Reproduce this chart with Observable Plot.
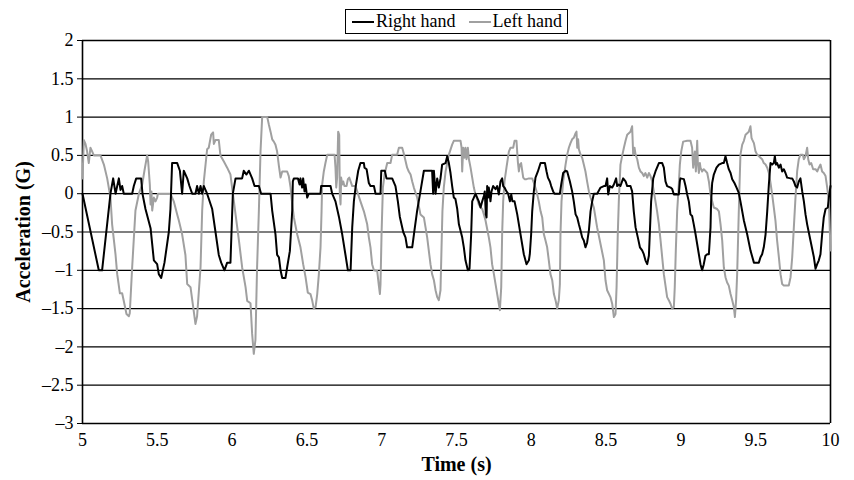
<!DOCTYPE html>
<html>
<head>
<meta charset="utf-8">
<script src="https://cdn.jsdelivr.net/npm/d3@7"></script>
<script src="https://cdn.jsdelivr.net/npm/@observablehq/plot@0.6"></script>
<style>
  html, body { margin: 0; padding: 0; background: #fff; }
  #wrap { position: relative; width: 854px; height: 480px; font-family: "Liberation Serif", "Times New Roman", serif; }
  #legend { position: absolute; left: 345px; top: 9px; height: 23px; border: 1px solid #000; background: #fff;
            display: flex; align-items: center; font-size: 18px; padding: 0 5px 0 6px; white-space: nowrap; }
  .sw { display: inline-block; width: 22px; height: 2px; margin-right: 2px; }
  .item { display: inline-flex; align-items: center; }
  #chart svg text { font-family: "Liberation Serif", "Times New Roman", serif; }
</style>
</head>
<body>
<div id="wrap">
  <div id="chart"></div>
  <div id="legend"></div>
</div>
<script>
const seriesNames = ["Right hand", "Left hand"];
const seriesColors = ["#000000", "#a0a0a0"];
const xTicks = [5, 5.5, 6, 6.5, 7, 7.5, 8, 8.5, 9, 9.5, 10];
const yTicks = [-3, -2.5, -2, -1.5, -1, -0.5, 0, 0.5, 1, 1.5, 2];

const rightTime = [5.000,5.109,5.131,5.187,5.205,5.221,5.243,5.254,5.265,5.276,5.332,5.343,5.359,5.392,5.401,5.421,5.455,5.477,5.499,5.510,5.526,5.548,5.577,5.588,5.599,5.633,5.651,5.666,5.677,5.700,5.715,5.733,5.755,5.766,5.778,5.789,5.800,5.811,5.833,5.867,5.889,5.911,5.927,5.949,5.967,5.989,6.005,6.023,6.067,6.078,6.096,6.112,6.134,6.150,6.179,6.194,6.257,6.268,6.290,6.301,6.313,6.324,6.335,6.357,6.368,6.386,6.402,6.406,6.413,6.440,6.451,6.457,6.468,6.475,6.484,6.491,6.502,6.513,6.591,6.595,6.658,6.669,6.691,6.714,6.736,6.758,6.774,6.792,6.803,6.814,6.825,6.843,6.858,6.881,6.885,6.899,6.914,6.925,6.948,6.959,6.992,6.997,7.021,7.032,7.070,7.092,7.108,7.121,7.144,7.159,7.170,7.204,7.219,7.237,7.259,7.282,7.337,7.344,7.349,7.360,7.371,7.382,7.393,7.404,7.427,7.438,7.449,7.460,7.471,7.482,7.493,7.505,7.516,7.538,7.549,7.560,7.576,7.587,7.598,7.605,7.616,7.627,7.638,7.649,7.661,7.672,7.683,7.689,7.696,7.701,7.705,7.712,7.716,7.727,7.734,7.745,7.761,7.772,7.783,7.794,7.805,7.812,7.821,7.834,7.845,7.857,7.866,7.874,7.888,7.906,7.928,7.950,7.968,7.984,7.990,7.999,8.006,8.017,8.028,8.044,8.062,8.091,8.102,8.111,8.124,8.133,8.146,8.155,8.191,8.200,8.213,8.229,8.240,8.258,8.273,8.284,8.296,8.307,8.318,8.329,8.340,8.351,8.362,8.373,8.385,8.396,8.407,8.418,8.440,8.463,8.485,8.496,8.507,8.514,8.525,8.541,8.552,8.567,8.574,8.585,8.596,8.614,8.630,8.641,8.663,8.674,8.685,8.697,8.712,8.726,8.741,8.752,8.763,8.775,8.786,8.792,8.801,8.815,8.830,8.853,8.875,8.886,8.897,8.908,8.931,8.942,8.953,8.986,8.993,8.997,9.020,9.031,9.042,9.053,9.064,9.075,9.086,9.098,9.109,9.120,9.131,9.142,9.153,9.164,9.176,9.187,9.198,9.202,9.209,9.220,9.238,9.254,9.276,9.287,9.298,9.309,9.320,9.332,9.343,9.358,9.372,9.387,9.398,9.421,9.443,9.465,9.488,9.521,9.532,9.543,9.554,9.566,9.577,9.588,9.599,9.610,9.621,9.628,9.635,9.643,9.655,9.666,9.677,9.688,9.699,9.710,9.733,9.744,9.755,9.766,9.777,9.788,9.799,9.811,9.822,9.833,9.844,9.866,9.889,9.900,9.911,9.922,9.933,9.944,9.955,9.967,9.982,9.989,10.0];
const rightAccel = [0,-1.0,-1.0,0,0.2,0,0.2,0.05,0.1,0,0,0.1,0.2,0.2,0,-0.2,-0.45,-0.87,-0.92,-1.05,-1.1,-0.9,-0.5,-0.2,0.4,0.4,0.3,0,0.3,0.2,0.1,0,0,0.1,0,0.1,0,0.1,0,-0.2,-0.5,-0.8,-0.9,-1.0,-0.9,-0.9,0,0.2,0.2,0.3,0.25,0.3,0.2,0.1,0.1,0,0,-0.22,-0.53,-0.8,-0.83,-1.0,-1.1,-1.1,-0.96,-0.75,-0.22,0.16,0.2,0.2,0.12,0.2,0.08,0.2,0.03,0.12,-0.05,0,0,0.1,0.1,0,-0.1,-0.3,-0.53,-0.8,-1.0,-1.0,-0.44,-0.1,0.08,0.3,0.4,0.4,0.34,0.32,0.14,0.1,0.1,0,0,0.3,0.3,0.2,0.2,0.1,-0.1,-0.3,-0.5,-0.57,-0.7,-0.7,-0.48,-0.22,0.03,0.3,0.3,0,0.3,0,0.2,0.08,0.2,0.38,0.4,0.49,0.4,0.27,0.1,-0.05,-0.07,-0.2,-0.4,-0.57,-0.7,-0.87,-1.0,-0.98,-0.53,-0.1,-0.05,0,-0.05,-0.1,-0.18,-0.1,-0.03,0.03,-0.27,-0.31,0.1,-0.05,0.08,-0.1,0.03,0.1,0.06,0.1,-0.01,0.16,0.2,0.1,0.08,0.03,0,-0.1,-0.01,-0.1,-0.1,-0.27,-0.53,-0.79,-0.92,-0.87,-0.79,-0.53,-0.23,0.03,0.21,0.29,0.4,0.4,0.29,0.21,0.16,0.1,0.03,0,0,0.12,0.27,0.3,0.29,0.16,0.03,-0.1,-0.27,-0.31,-0.4,-0.48,-0.57,-0.61,-0.7,-0.64,-0.48,-0.23,-0.1,0,0,0.08,0.1,0.1,0.2,-0.01,0.1,0.08,0.12,0.2,0.1,0.12,0.1,0.2,0.16,0.1,0.1,0.03,-0.23,-0.44,-0.57,-0.7,-0.74,-0.79,-0.87,-0.92,-0.81,-0.53,-0.1,0.2,0.29,0.4,0.4,0.34,0.16,0.1,0.08,0.06,-0.01,-0.01,0.16,0.2,0.19,0.1,-0.01,-0.1,-0.27,-0.29,-0.4,-0.53,-0.66,-0.79,-0.92,-1.0,-0.92,-0.81,-0.79,-0.79,-0.44,-0.1,0.14,0.25,0.34,0.38,0.4,0.4,0.49,0.4,0.32,0.27,0.19,0.14,0.08,0.01,-0.1,-0.35,-0.53,-0.74,-0.9,-0.9,-0.83,-0.79,-0.7,-0.53,-0.23,0.12,0.4,0.38,0.4,0.49,0.38,0.4,0.34,0.38,0.29,0.32,0.27,0.21,0.2,0.2,0.16,0.1,0.08,0.16,0.2,0.03,-0.1,-0.27,-0.4,-0.61,-0.83,-0.98,-0.92,-0.87,-0.79,-0.53,-0.31,-0.2,-0.18,-0.05,0.1];

const leftTime = [5.000,5.009,5.020,5.031,5.042,5.053,5.065,5.076,5.120,5.143,5.165,5.187,5.198,5.221,5.232,5.250,5.265,5.276,5.294,5.310,5.316,5.332,5.354,5.377,5.399,5.414,5.432,5.439,5.450,5.455,5.461,5.466,5.477,5.488,5.499,5.504,5.588,5.610,5.633,5.644,5.666,5.688,5.700,5.722,5.740,5.755,5.766,5.789,5.800,5.811,5.833,5.844,5.860,5.873,5.878,5.889,5.911,5.922,5.945,5.967,5.989,6.000,6.012,6.023,6.045,6.067,6.090,6.101,6.123,6.134,6.145,6.156,6.167,6.179,6.190,6.201,6.235,6.246,6.257,6.268,6.279,6.290,6.301,6.313,6.324,6.335,6.368,6.379,6.391,6.402,6.413,6.435,6.457,6.475,6.491,6.506,6.524,6.535,6.546,6.558,6.569,6.580,6.591,6.598,6.602,6.613,6.624,6.636,6.685,6.691,6.696,6.702,6.709,6.716,6.720,6.725,6.729,6.736,6.743,6.751,6.765,6.774,6.783,6.792,6.803,6.825,6.836,6.858,6.881,6.903,6.914,6.925,6.936,6.948,6.970,6.981,6.988,6.992,6.999,7.008,7.019,7.037,7.059,7.070,7.103,7.115,7.137,7.144,7.152,7.170,7.181,7.193,7.204,7.215,7.237,7.259,7.282,7.293,7.304,7.326,7.337,7.349,7.360,7.371,7.382,7.393,7.400,7.406,7.415,7.427,7.438,7.449,7.471,7.482,7.527,7.534,7.538,7.545,7.554,7.560,7.567,7.576,7.583,7.594,7.605,7.616,7.627,7.638,7.649,7.661,7.672,7.683,7.694,7.705,7.716,7.727,7.738,7.750,7.761,7.772,7.783,7.790,7.799,7.805,7.812,7.821,7.834,7.850,7.861,7.879,7.888,7.901,7.910,7.917,7.923,7.932,7.946,7.955,7.968,7.984,8.006,8.021,8.035,8.050,8.062,8.073,8.084,8.095,8.106,8.117,8.128,8.140,8.151,8.162,8.173,8.184,8.191,8.195,8.202,8.213,8.229,8.240,8.251,8.262,8.273,8.284,8.296,8.302,8.307,8.313,8.318,8.329,8.340,8.351,8.362,8.373,8.385,8.396,8.418,8.440,8.463,8.485,8.496,8.507,8.529,8.541,8.552,8.563,8.570,8.578,8.585,8.596,8.607,8.619,8.630,8.641,8.652,8.663,8.674,8.681,8.690,8.697,8.708,8.719,8.730,8.741,8.752,8.763,8.775,8.786,8.797,8.808,8.819,8.830,8.841,8.853,8.864,8.875,8.886,8.897,8.908,8.919,8.931,8.942,8.953,8.959,8.966,8.975,8.986,8.993,9.002,9.015,9.042,9.064,9.075,9.082,9.086,9.093,9.100,9.109,9.113,9.120,9.127,9.131,9.142,9.153,9.176,9.187,9.198,9.209,9.220,9.242,9.254,9.265,9.276,9.287,9.298,9.309,9.320,9.332,9.343,9.354,9.361,9.369,9.376,9.383,9.390,9.398,9.410,9.421,9.432,9.443,9.454,9.465,9.472,9.476,9.488,9.499,9.510,9.532,9.543,9.554,9.566,9.577,9.588,9.599,9.610,9.621,9.632,9.643,9.655,9.666,9.677,9.688,9.721,9.733,9.744,9.755,9.766,9.777,9.788,9.799,9.815,9.822,9.833,9.844,9.851,9.860,9.871,9.884,9.900,9.911,9.922,9.933,9.944,9.955,9.967,9.978,9.989,10.0];
const leftAccel = [0.2,0.7,0.65,0.55,0.4,0.6,0.55,0.5,0.5,0.38,0.2,-0.05,-0.4,-0.8,-1.05,-1.3,-1.3,-1.4,-1.57,-1.6,-1.56,-0.96,-0.22,0,0.12,0.3,0.5,0.42,0.12,-0.14,0.03,-0.22,-0.05,-0.1,-0.05,0,0,-0.1,-0.27,-0.35,-0.53,-0.8,-1.18,-1.22,-1.48,-1.7,-1.6,-0.96,-0.22,0.16,0.58,0.6,0.77,0.8,0.65,0.7,0.7,0.5,0.42,0.34,0.25,0.08,-0.1,-0.27,-0.6,-0.96,-1.22,-1.4,-1.43,-1.83,-2.09,-1.91,-0.96,-0.22,0.55,1.0,1.0,0.9,0.81,0.71,0.68,0.64,0.55,0.36,0.21,0.29,0.29,0.23,0.08,-0.14,-0.31,-0.53,-0.7,-0.92,-1.09,-1.29,-1.31,-1.39,-1.5,-1.48,-1.31,-1.05,-0.7,-0.23,0.12,0.29,0.4,0.51,0.51,0.34,0.08,0.21,0.81,0.77,-0.01,-0.14,0.21,0.12,0.16,0.1,0.1,0.19,0.21,0.16,0.1,0.1,0.03,-0.1,-0.23,-0.4,-0.57,-0.7,-0.92,-1.0,-1.01,-1.2,-1.31,-1.18,-0.53,0.08,0.25,0.4,0.4,0.51,0.51,0.6,0.6,0.55,0.49,0.34,0.29,0.25,0.16,0.08,-0.05,-0.27,-0.31,-0.44,-0.57,-0.92,-1.05,-1.13,-1.26,-1.35,-1.39,-1.26,-0.7,-0.23,0.08,0.29,0.4,0.51,0.64,0.69,0.69,0.6,0.29,0.6,0.47,0.6,0.45,0.6,0.45,0.34,0.21,0.08,-0.01,-0.07,-0.14,-0.18,-0.2,-0.27,-0.35,-0.46,-0.57,-0.7,-0.92,-1.05,-1.18,-1.31,-1.44,-1.52,-1.22,-0.53,-0.1,0.16,0.34,0.55,0.6,0.6,0.69,0.69,0.42,0.29,0.38,0.4,0.21,0.19,0.19,0.2,0.2,0.12,0.03,-0.1,-0.23,-0.31,-0.53,-0.61,-0.7,-0.87,-1.05,-1.13,-1.31,-1.39,-1.5,-1.39,-1.18,-0.53,-0.1,0.16,0.38,0.51,0.6,0.66,0.71,0.73,0.79,0.81,0.6,0.71,0.58,0.51,0.47,0.38,0.29,0.16,0.03,-0.05,-0.18,-0.44,-0.66,-0.87,-1.13,-1.26,-1.35,-1.44,-1.61,-1.57,-1.22,-0.53,-0.1,0.38,0.49,0.6,0.69,0.77,0.79,0.81,0.88,0.51,0.6,0.51,0.45,0.34,0.29,0.27,0.23,0.27,0.21,0.27,0.23,0.16,0.03,-0.1,-0.23,-0.4,-0.61,-0.83,-1.05,-1.2,-1.35,-1.39,-1.44,-1.5,-1.48,-1.22,-0.74,-0.23,0.12,0.38,0.55,0.68,0.69,0.69,0.6,0.34,0.42,0.55,0.29,0.69,0.42,0.27,0.4,0.34,0.29,0.32,0.27,0.16,-0.01,-0.1,-0.18,-0.2,-0.23,-0.4,-0.61,-0.96,-1.09,-1.16,-1.2,-1.31,-1.39,-1.48,-1.61,-1.39,-1.05,-0.53,-0.01,0.51,0.64,0.69,0.77,0.79,0.81,0.88,0.73,0.71,0.66,0.55,0.51,0.47,0.45,0.4,0.38,0.34,0.27,0.14,-0.01,-0.18,-0.35,-0.61,-0.83,-1.05,-1.18,-1.2,-1.2,-1.09,-0.83,-0.44,-0.05,0.29,0.45,0.51,0.51,0.45,0.49,0.6,0.45,0.38,0.4,0.32,0.32,0.29,0.34,0.38,0.29,0.27,0.23,0.08,-0.1,-0.74];

const rightData = rightTime.map((t, i) => ({t, a: rightAccel[i]}));
const leftData = leftTime.map((t, i) => ({t, a: leftAccel[i]}));
const fmt = d => d < 0 ? "\u2013" + Math.abs(d) : String(d);
const serif = "'Liberation Serif', 'Times New Roman', serif";

const chart = Plot.plot({
  width: 854,
  height: 480,
  marginTop: 40,
  marginBottom: 57,
  marginLeft: 82,
  marginRight: 24,
  style: { fontFamily: serif, fontSize: "18px", color: "#000", background: "#fff", overflow: "visible" },
  x: { domain: [5, 10] },
  y: { domain: [-3, 2] },
  marks: [
    Plot.ruleY(yTicks, { stroke: "#000", strokeWidth: 1.2 }),
    Plot.ruleX([5, 10], { stroke: "#000", strokeWidth: 1.6 }),
    Plot.ruleY([-3, 2], { stroke: "#000", strokeWidth: 1.6 }),
    Plot.line(leftData, { x: "t", y: "a", stroke: seriesColors[1], strokeWidth: 2 }),
    Plot.line(rightData, { x: "t", y: "a", stroke: seriesColors[0], strokeWidth: 2 }),
    Plot.axisX({ ticks: xTicks, tickSize: 0, tickPadding: 10, tickFormat: fmt, label: null, fontSize: 18, fontFamily: serif }),
    Plot.axisY({ ticks: yTicks, tickSize: 5, tickPadding: 4, tickFormat: fmt, label: null, fontSize: 18, fontFamily: serif }),
    Plot.text(["Acceleration (G)"], { frameAnchor: "left", dx: -59, rotate: -90, textAnchor: "middle", fontWeight: "bold", fontSize: 20, fontFamily: serif }),
    Plot.text(["Time (s)"], { frameAnchor: "bottom", dy: 47, textAnchor: "middle", fontWeight: "bold", fontSize: 20, fontFamily: serif })
  ]
});
document.getElementById("chart").appendChild(chart);

const legend = document.getElementById("legend");
seriesNames.forEach((name, i) => {
  const item = document.createElement("span");
  item.className = "item";
  if (i > 0) item.style.marginLeft = "13px";
  const sw = document.createElement("span");
  sw.className = "sw";
  sw.style.background = seriesColors[i];
  item.appendChild(sw);
  item.appendChild(document.createTextNode(name));
  legend.appendChild(item);
});
</script>
</body>
</html>
